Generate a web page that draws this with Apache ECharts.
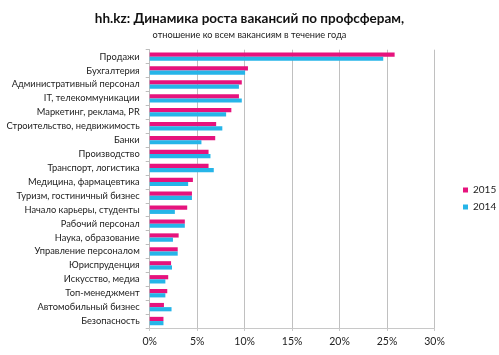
<!DOCTYPE html>
<html><head><meta charset="utf-8">
<script src="https://cdn.jsdelivr.net/npm/echarts@6/dist/echarts.min.js"></script>
<style>html,body{margin:0;padding:0;background:#fff}#c{width:499px;height:355px}</style>
</head><body><div id="c"></div>
<script>
const categories = ["Продажи","Бухгалтерия","Административный персонал","IT, телекоммуникации","Маркетинг, реклама, PR","Строительство, недвижимость","Банки","Производство","Транспорт, логистика","Медицина, фармацевтика","Туризм, гостиничный бизнес","Начало карьеры, студенты","Рабочий персонал","Наука, образование","Управление персоналом","Юриспруденция","Искусство, медиа","Топ-менеджмент","Автомобильный бизнес","Безопасность"];
const values2015 = [25.8,10.35,9.7,9.4,8.6,7.0,6.9,6.2,6.2,4.55,4.45,3.95,3.7,3.05,2.95,2.25,1.95,1.85,1.5,1.45];
const values2014 = [24.6,10.05,9.4,9.7,8.05,7.65,5.45,6.4,6.75,4.05,4.45,2.65,3.7,2.45,2.95,2.35,1.65,1.65,2.3,1.45];
const xTicks = [0,5,10,15,20,25,30];
const FONT = 'Lato';
const chart = echarts.init(document.getElementById('c'));
chart.setOption({
  animation:false,
  backgroundColor:'#fff',
  title:[
    {text:'hh.kz: Динамика роста вакансий по профсферам,',left:'center',top:7,
     textStyle:{fontFamily:FONT,fontSize:13.5,fontWeight:'bold',color:'#111'}},
    {text:'отношение ко всем вакансиям в течение года',left:'center',top:26,
     textStyle:{fontFamily:FONT,fontSize:9.2,fontWeight:'normal',color:'#222'}}
  ],
  legend:{orient:'vertical',left:458,top:180,itemWidth:5,itemHeight:5,itemGap:7,
    icon:'rect',textStyle:{fontFamily:FONT,fontSize:10,color:'#222'},
    data:['2015','2014']},
  grid:{left:149.7,right:64.5,top:49.7,bottom:27,containLabel:false,outerBoundsMode:'none'},
  xAxis:{type:'value',min:xTicks[0],max:xTicks[xTicks.length-1],interval:5,
    axisLine:{show:true,lineStyle:{color:'#c8c8c8'}},
    axisTick:{show:true,length:3,lineStyle:{color:'#c8c8c8'}},
    splitLine:{show:true,lineStyle:{color:'#c0c0c0'}},
    axisLabel:{formatter:v=>v+'%',fontFamily:FONT,fontSize:10.5,color:'#222',margin:8}},
  yAxis:{type:'category',data:categories,inverse:true,
    axisLine:{show:true,lineStyle:{color:'#bdbdbd'}},
    axisTick:{show:true,length:4,lineStyle:{color:'#bdbdbd'}},
    axisLabel:{interval:0,fontFamily:FONT,fontSize:9.3,color:'#222',margin:10}},
  series:[
    {name:'2015',type:'bar',data:values2015,barWidth:4.2,barGap:'0%',itemStyle:{color:'#E6137D'}},
    {name:'2014',type:'bar',data:values2014,barWidth:4.2,barGap:'0%',itemStyle:{color:'#26B5E8'}}
  ]
});
</script></body></html>
